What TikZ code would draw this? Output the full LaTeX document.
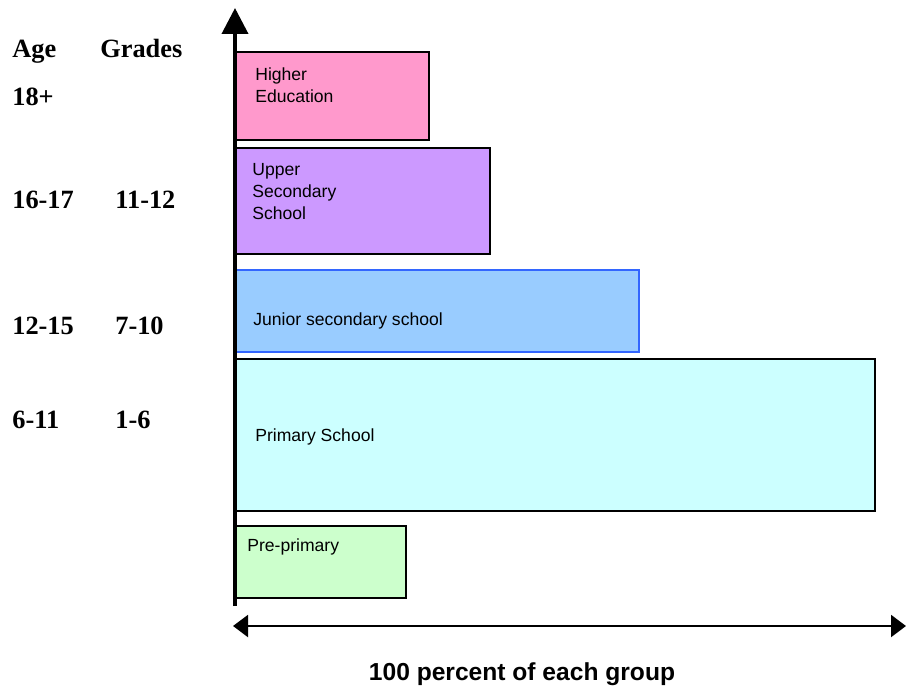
\documentclass[tikz,border=0pt]{standalone}
\usepackage{fontspec}
\setmainfont{Liberation Serif}
\setsansfont{Liberation Sans}
\usetikzlibrary{arrows.meta,positioning}

\definecolor{higherpink}{HTML}{FF99CC}
\definecolor{upperpurple}{HTML}{CC99FF}
\definecolor{juniorblue}{HTML}{99CCFF}
\definecolor{juniorline}{HTML}{3366FF}
\definecolor{primarycyan}{HTML}{CCFFFF}
\definecolor{pregreen}{HTML}{CCFFCC}

\begin{document}
\begin{tikzpicture}
  [
    x=0.02cm, y=-0.02cm,
    stage/.style={draw, rectangle, line width=1pt, anchor=north west, inner sep=0pt, outer sep=0pt},
    stagetext/.style={anchor=west, inner sep=0pt, align=left, font=\sffamily\fontsize{10}{12.5}\selectfont},
    agelbl/.style={anchor=base west, inner sep=0pt, font=\bfseries\fontsize{15}{17}\selectfont},
    axis/.style={line width=2.2pt, -{Triangle[length=0.52cm, width=0.52cm]}},
    span/.style={line width=1.2pt, {Triangle[length=0.3cm, width=0.44cm]}-{Triangle[length=0.3cm, width=0.44cm]}}
  ]
  \useasboundingbox (0,0) rectangle (906,686);

  % school stages
  \node (higher) [stage, fill=higherpink, minimum width=3.88cm, minimum height=1.76cm] at (235,52) {};
  \node (upper) [stage, fill=upperpurple, minimum width=5.10cm, minimum height=2.12cm] at (235,148) {};
  \node (junior) [stage, draw=juniorline, fill=juniorblue, minimum width=8.10cm, minimum height=1.64cm] at (234,270) {};
  \node (primary) [stage, fill=primarycyan, minimum width=12.80cm, minimum height=3.04cm] at (235,359) {};
  \node (pre) [stage, fill=pregreen, minimum width=3.42cm, minimum height=1.44cm] at (235,526) {};

  \node (highertxt) [stagetext] at (255,85) {Higher\\Education};
  \node (uppertxt) [stagetext] at (252,192) {Upper\\Secondary\\School};
  \node (juniortxt) [stagetext] at (253,321) {Junior secondary school};
  \node (primarytxt) [stagetext] at (255,437) {Primary School};
  \node (pretxt) [stagetext] at (247,547) {Pre-primary};

  % age and grade columns
  \node (age) [agelbl] at (12,58) {Age};
  \node (grades) [agelbl] at (100,58) {Grades};
  \node (age18) [agelbl] at (12,106) {18+};
  \node (age16) [agelbl] at (12,208) {16-17};
  \node (gr11) [agelbl] at (115,208) {11-12};
  \node (age12) [agelbl] at (12,334) {12-15};
  \node (gr7) [agelbl] at (115,334) {7-10};
  \node (age6) [agelbl] at (12,428) {6-11};
  \node (gr1) [agelbl] at (115,428) {1-6};

  % axes
  \coordinate (ybot) at (235,606);
  \coordinate (ytop) at (235,8);
  \coordinate (xleft) at (233,626);
  \coordinate (xright) at (906,626);
  \draw [axis] (ybot) -- (ytop);
  \draw [span] (xleft) -- (xright);

  \node (caption) [anchor=base, inner sep=0pt, font=\sffamily\bfseries\fontsize{14}{16}\selectfont] at (522,680) {100 percent of each group};
\end{tikzpicture}
\end{document}
